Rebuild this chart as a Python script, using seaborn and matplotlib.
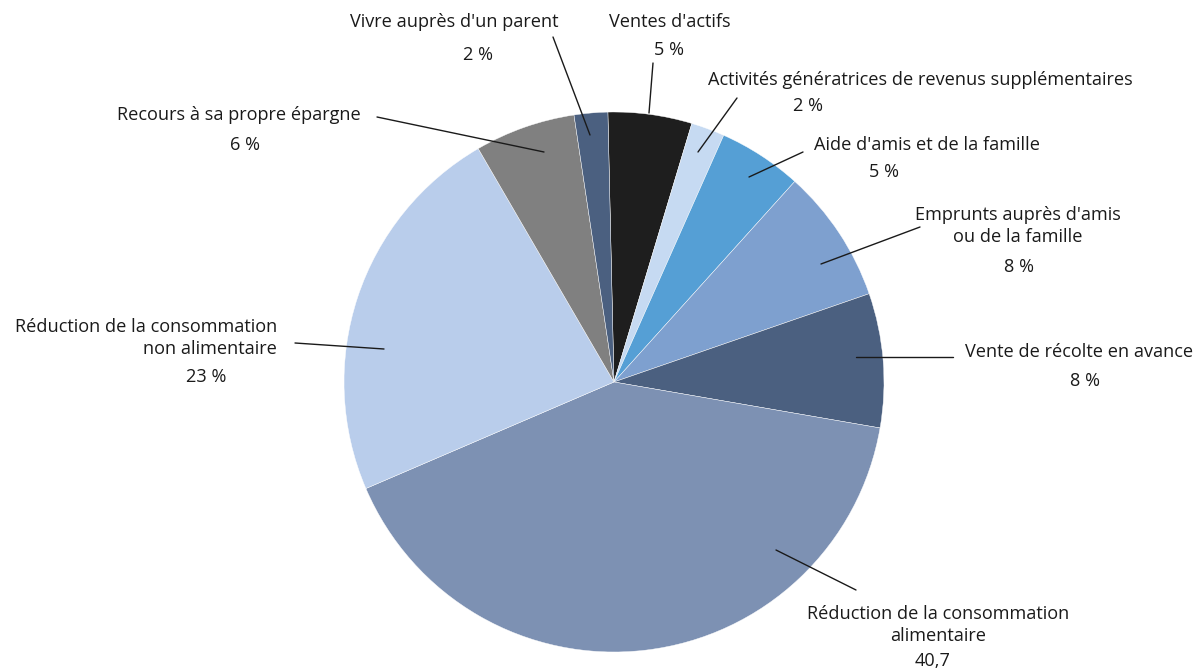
import matplotlib
matplotlib.use("Agg")
import matplotlib.pyplot as plt
import seaborn as sns

# ---- data ----
categories = [
    "Ventes d'actifs",
    "Activités génératrices de revenus supplémentaires",
    "Aide d'amis et de la famille",
    "Emprunts auprès d'amis\nou de la famille",
    "Vente de récolte en avance",
    "Réduction de la consommation\nalimentaire",
    "Réduction de la consommation\nnon alimentaire",
    "Recours à sa propre épargne",
    "Vivre auprès d'un parent",
]
values = [5, 2, 5, 8, 8, 40.7, 23, 6, 2]
value_labels = ["5 %", "2 %", "5 %", "8 %", "8 %", "40,7", "23 %", "6 %", "2 %"]

colors = ["#1e1e1e", "#c6daf2", "#559fd5", "#7ea0cf", "#4b6080",
          "#7d91b3", "#b9cdeb", "#808080", "#4b6080"]

# ---- layout (pixel positions in the 1195x668 canvas) ----
W, H = 1195, 668
CX, CY, R = 614, 382, 270

def px(x, y):
    return ((x - CX) / R, (CY - y) / R)

# name label anchor (x, y, ha), value label centre, leader (inner, outer)
layout = [
    dict(name=(670, 22, "center"), val=(669, 50), line=((649, 113), (653, 63))),
    dict(name=(920, 80, "center"), val=(808, 106), line=((698, 152), (737, 98))),
    dict(name=(927, 145, "center"), val=(884, 172), line=((749, 177), (803, 152))),
    dict(name=(1018, 226, "center"), val=(1019, 267), line=((821, 264), (920, 227))),
    dict(name=(1079, 352, "center"), val=(1085, 381), line=((856, 357), (953, 357))),
    dict(name=(938, 625, "center"), val=(933, 661), line=((776, 550), (856, 590))),
    dict(name=(277, 338, "right"), val=(206, 377), line=((384, 349), (295, 343))),
    dict(name=(239, 115, "center"), val=(245, 145), line=((544, 152), (377, 117))),
    dict(name=(454, 22, "center"), val=(478, 55), line=((590, 135), (553, 37))),
]

sns.set_theme(style="white")
plt.rcParams["font.family"] = ["Open Sans", "DejaVu Sans"]

fig = plt.figure(figsize=(W / 100, H / 100), dpi=100)
ax = fig.add_axes([0, 0, 1, 1])

start = 90 + 1.3
ax.pie(values, colors=colors, startangle=start, counterclock=False,
       radius=1.0, center=(0, 0), frame=True,
       wedgeprops=dict(edgecolor="white", linewidth=0.3))
ax.set_xlim((0 - CX) / R, (W - CX) / R)
ax.set_ylim((CY - H) / R, CY / R)
ax.set_aspect("equal")
ax.axis("off")

fs = 13.1
tc = "#1a1a1a"
for name, vl, lay in zip(categories, value_labels, layout):
    nx, ny, ha = lay["name"]
    ax.text(*px(nx, ny), name, ha=ha, va="center", fontsize=fs, color=tc,
            multialignment=ha, linespacing=1.3)
    ax.text(*px(*lay["val"]), vl, ha="center", va="center", fontsize=fs, color=tc)
    (x0, y0), (x1, y1) = lay["line"]
    a, b = px(x0, y0), px(x1, y1)
    ax.plot([a[0], b[0]], [a[1], b[1]], color="#1a1a1a", lw=1.0)

fig.savefig("out.png", dpi=100)
